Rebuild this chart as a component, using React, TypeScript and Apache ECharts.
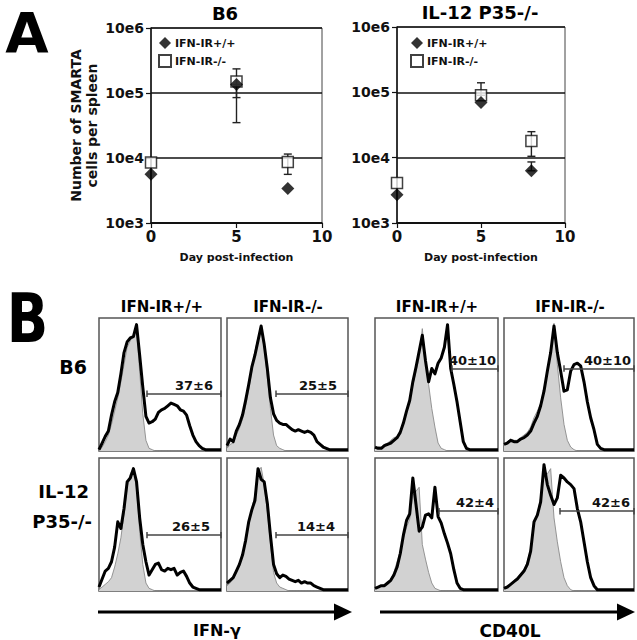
import React, { useEffect, useRef } from "react";
import * as echarts from "echarts";

const FONT = "'DejaVu Sans', 'Liberation Sans', sans-serif";

// ---------- Panel A data ----------
const days = [0, 5, 8];
const seriesNames = ["IFN-IR+/+", "IFN-IR-/-"];
const plotTitles = ["B6", "IL-12 P35-/-"];
const yAxisTitle = "Number of SMARTA\ncells per spleen";
const xAxisTitle = "Day post-infection";
const b6WT = [5600, 135000, 3400];
const b6KO = [8500, 150000, 8700];
const b6Err = [
  [5, 35000, 135000],
  [5, 85000, 235000],
  [8, 5600, 11500],
];
const il12WT = [2700, 70000, 6300];
const il12KO = [4100, 90000, 18000];
const il12Err = [
  [5, 90000, 140000],
  [8, 10500, 25000],
  [8, 6300, 8600],
];

// ---------- Panel B data (histograms, 40 bins, % of max) ----------
const colHeaders = ["IFN-IR+/+", "IFN-IR-/-", "IFN-IR+/+", "IFN-IR-/-"];
const markerNames = ["IFN-γ", "CD40L"];

const h1Black = [1, 6, 11, 15, 27, 37, 44, 58, 74, 82, 85, 86, 95, 72, 48, 26, 21, 22, 24, 29, 31, 32, 34, 36, 35, 34, 31, 30, 27, 19, 12, 7, 4, 2, 1, 1, 1, 1, 1, 1];
const h1Gray = [0, 3, 7, 12, 20, 30, 40, 52, 65, 78, 83, 86, 92, 60, 28, 8, 2, 1, 0, 0, 0, 0, 0, 0, 0, 0, 0, 0, 0, 0, 0, 0, 0, 0, 0, 0, 0, 0, 0, 0];
const h2Black = [4, 9, 7, 15, 20, 27, 38, 50, 63, 72, 83, 94, 80, 62, 40, 28, 23, 21, 20, 20, 18, 16, 15, 16, 15, 14, 15, 14, 12, 7, 5, 3, 2, 1, 1, 1, 1, 1, 1, 1];
const h2Gray = [2, 5, 6, 12, 17, 24, 34, 46, 60, 75, 85, 92, 78, 55, 32, 12, 4, 2, 1, 0, 0, 0, 0, 0, 0, 0, 0, 0, 0, 0, 0, 0, 0, 0, 0, 0, 0, 0, 0, 0];
const h3Black = [3, 2, 2, 4, 5, 6, 8, 10, 14, 21, 30, 38, 52, 63, 75, 87, 68, 52, 62, 58, 66, 70, 78, 95, 62, 50, 37, 22, 7, 2, 1, 1, 1, 1, 1, 1, 1, 1, 1, 1];
const h3Gray = [2, 3, 3, 5, 6, 8, 10, 11, 15, 22, 30, 38, 50, 60, 70, 92, 68, 50, 32, 18, 6, 2, 1, 0, 0, 0, 0, 0, 0, 0, 0, 0, 0, 0, 0, 0, 0, 0, 0, 0];
const h4Black = [5, 6, 8, 7, 7, 9, 10, 12, 15, 21, 26, 34, 45, 60, 74, 94, 74, 60, 45, 46, 60, 65, 66, 64, 52, 37, 25, 16, 5, 2, 1, 1, 1, 1, 1, 1, 1, 1, 1, 1];
const h4Gray = [5, 7, 9, 8, 8, 10, 12, 14, 18, 25, 30, 36, 47, 60, 73, 96, 65, 40, 20, 8, 3, 1, 0, 0, 0, 0, 0, 0, 0, 0, 0, 0, 0, 0, 0, 0, 0, 0, 0, 0];
const h5Black = [3, 9, 15, 17, 22, 33, 52, 47, 62, 82, 85, 92, 82, 55, 35, 22, 12, 16, 20, 21, 16, 15, 17, 16, 17, 12, 14, 15, 11, 6, 3, 2, 1, 1, 1, 1, 1, 1, 1, 1];
const h5Gray = [1, 3, 5, 7, 10, 18, 28, 40, 58, 78, 88, 92, 78, 45, 20, 6, 2, 1, 0, 0, 0, 0, 0, 0, 0, 0, 0, 0, 0, 0, 0, 0, 0, 0, 0, 0, 0, 0, 0, 0];
const h6Black = [6, 8, 10, 15, 20, 27, 38, 52, 61, 68, 92, 84, 82, 66, 42, 20, 13, 10, 12, 11, 9, 8, 7, 8, 6, 7, 6, 6, 4, 3, 2, 1, 1, 1, 1, 1, 1, 1, 1, 1];
const h6Gray = [4, 6, 9, 14, 19, 26, 36, 50, 62, 72, 90, 93, 80, 60, 36, 14, 6, 3, 2, 1, 0, 0, 0, 0, 0, 0, 0, 0, 0, 0, 0, 0, 0, 0, 0, 0, 0, 0, 0, 0];
const h7Black = [2, 3, 4, 4, 6, 8, 12, 18, 28, 42, 53, 58, 85, 65, 45, 48, 57, 58, 55, 78, 56, 51, 43, 36, 28, 16, 6, 2, 1, 1, 1, 1, 1, 1, 1, 1, 1, 1, 1, 1];
const h7Gray = [2, 3, 4, 5, 6, 9, 14, 22, 30, 40, 48, 54, 72, 75, 78, 35, 24, 14, 6, 2, 1, 0, 0, 0, 0, 0, 0, 0, 0, 0, 0, 0, 0, 0, 0, 0, 0, 0, 0, 0];
const h8Black = [2, 3, 5, 7, 9, 12, 15, 20, 30, 52, 57, 67, 95, 80, 72, 65, 70, 87, 85, 82, 80, 77, 62, 52, 37, 22, 10, 4, 1, 1, 1, 1, 1, 1, 1, 1, 1, 1, 1, 1];
const h8Gray = [2, 3, 5, 8, 10, 13, 16, 22, 32, 50, 58, 70, 90, 88, 92, 55, 37, 22, 10, 4, 1, 0, 0, 0, 0, 0, 0, 0, 0, 0, 0, 0, 0, 0, 0, 0, 0, 0, 0, 0];

const blackHists = [h1Black, h2Black, h3Black, h4Black, h5Black, h6Black, h7Black, h8Black];
const grayHists = [h1Gray, h2Gray, h3Gray, h4Gray, h5Gray, h6Gray, h7Gray, h8Gray];
const gateStarts = [15.3, 15.8, 24.4, 18, 15.3, 15.8, 20.3, 16.7];
const gateLevels = [43, 43, 62, 62, 42, 42, 60, 60];
const gateLabels = ["37±6", "25±5", "40±10", "40±10", "26±5", "14±4", "42±4", "42±6"];

export default function App() {
  const ref = useRef<HTMLDivElement>(null);

  useEffect(() => {
    if (!ref.current) return;
    const chart = echarts.init(ref.current, undefined, { renderer: "svg" });

    const grids: any[] = [];
    const xAxes: any[] = [];
    const yAxes: any[] = [];
    const series: any[] = [];
    const legends: any[] = [];

    const bold = (size: number) => ({ fontFamily: FONT, fontWeight: "bold", fontSize: size, color: "#111" });

    // ----- Panel A -----
    const topGrids = [
      { left: 151, top: 28, width: 171, height: 195 },
      { left: 397, top: 27, width: 168, height: 196 },
    ];
    const wtData = [b6WT, il12WT];
    const koData = [b6KO, il12KO];
    const errData = [b6Err, il12Err];
    const legendLefts = [158, 410];

    topGrids.forEach((g, k) => {
      grids.push({ ...g, show: true, borderColor: "#444", borderWidth: 1, backgroundColor: "transparent" });
      xAxes.push({
        gridIndex: k,
        type: "value",
        min: 0,
        max: 10,
        interval: 5,
        axisLine: { show: true, onZero: false, lineStyle: { color: "#111", width: 1.5 } },
        axisTick: { show: true, length: 5, lineStyle: { color: "#111", width: 1.2 } },
        axisLabel: { ...bold(15), margin: 6 },
        splitLine: { show: false },
        name: xAxisTitle,
        nameLocation: "middle",
        nameGap: 29,
        nameTextStyle: bold(11),
      });
      yAxes.push({
        gridIndex: k,
        type: "log",
        logBase: 10,
        min: 1000,
        max: 1000000,
        axisLine: { show: true, lineStyle: { color: "#111", width: 1.5 } },
        axisTick: { show: true, length: 5, lineStyle: { color: "#111", width: 1.2 } },
        axisLabel: {
          ...bold(14),
          margin: 7,
          formatter: (v: number) => "10e" + Math.round(Math.log10(v)),
        },
        splitLine: { show: true, lineStyle: { color: "#111", width: 1.5 } },
        name: k === 0 ? yAxisTitle : "",
        nameLocation: "middle",
        nameGap: 51,
        nameTextStyle: { ...bold(14), lineHeight: 16 },
      });
      series.push({
        type: "custom",
        name: "err" + k,
        xAxisIndex: k,
        yAxisIndex: k,
        z: 2,
        data: errData[k],
        encode: { x: 0, y: [1, 2] },
        renderItem: (params: any, api: any) => {
          const x = api.value(0);
          const p1 = api.coord([x, api.value(1)]);
          const p2 = api.coord([x, api.value(2)]);
          const w = 4;
          const st = { stroke: "#222", lineWidth: 1.4 };
          return {
            type: "group",
            children: [
              { type: "line", shape: { x1: p1[0], y1: p1[1], x2: p2[0], y2: p2[1] }, style: st },
              { type: "line", shape: { x1: p1[0] - w, y1: p1[1], x2: p1[0] + w, y2: p1[1] }, style: st },
              { type: "line", shape: { x1: p2[0] - w, y1: p2[1], x2: p2[0] + w, y2: p2[1] }, style: st },
            ],
          };
        },
      });
      series.push({
        type: "scatter",
        name: seriesNames[1],
        xAxisIndex: k,
        yAxisIndex: k,
        z: 3,
        symbol: "rect",
        symbolSize: 11,
        itemStyle: { color: "#fff", borderColor: "#111", borderWidth: 1.5 },
        data: days.map((d, i) => [d, koData[k][i]]),
      });
      series.push({
        type: "scatter",
        name: seriesNames[0],
        xAxisIndex: k,
        yAxisIndex: k,
        z: 4,
        symbol: "diamond",
        symbolSize: 13,
        itemStyle: { color: "#000" },
        data: days.map((d, i) => [d, wtData[k][i]]),
      });
      legends.push({
        data: seriesNames,
        left: legendLefts[k],
        top: 37,
        orient: "vertical",
        itemWidth: 12,
        itemHeight: 12,
        itemGap: 5,
        padding: 0,
        selectedMode: false,
        textStyle: { ...bold(11), padding: [0, 0, 0, -1] },
      });
    });

    // ----- Panel B -----
    const cols = [
      [99, 122],
      [227, 121],
      [375, 123],
      [504, 130],
    ];
    const rows = [
      [318, 133],
      [458, 133],
    ];
    const labelDx = [8, 11, 2, 3, 11, 13, 4, 4];
    const tickH = 2.4;

    blackHists.forEach((blk, p) => {
      const r = Math.floor(p / 4);
      const c = p % 4;
      const gi = 2 + p;
      grids.push({
        left: cols[c][0],
        width: cols[c][1],
        top: rows[r][0],
        height: rows[r][1],
        show: true,
        borderColor: "#555",
        borderWidth: 1.5,
        backgroundColor: "transparent",
      });
      xAxes.push({ gridIndex: gi, type: "value", min: 0, max: 39, show: false });
      yAxes.push({ gridIndex: gi, type: "value", min: 0, max: 100, show: false });
      series.push({
        type: "line",
        xAxisIndex: gi,
        yAxisIndex: gi,
        z: 2,
        symbol: "none",
        lineStyle: { color: "#8a8a8a", width: 0.9 },
        areaStyle: { color: "#d2d2d2", opacity: 1 },
        data: grayHists[p].map((v, i) => [i, v]),
      });
      const s = gateStarts[p];
      const lv = gateLevels[p];
      series.push({
        type: "line",
        xAxisIndex: gi,
        yAxisIndex: gi,
        z: 3,
        symbol: "none",
        lineStyle: { color: "#000", width: 3, join: "round" },
        data: blk.map((v, i) => [i, v]),
        markLine: {
          silent: true,
          symbol: "none",
          lineStyle: { color: "#444", width: 1.5, type: "solid" },
          label: { show: false },
          data: [
            [
              {
                coord: [s, lv],
                label: {
                  show: true,
                  position: "insideEndTop",
                  formatter: gateLabels[p],
                  ...bold(13),
                  distance: [labelDx[p], 2],
                },
              },
              { coord: [39, lv] },
            ],
            [{ coord: [s, lv - tickH] }, { coord: [s, lv + tickH] }],
            [{ coord: [39, lv - tickH] }, { coord: [39, lv + tickH] }],
          ],
        },
      });
    });

    const txt = (
      text: string,
      x: number,
      y: number,
      size: number,
      scaleX = 1,
      align = "center",
      valign = "middle"
    ) => ({
      type: "text",
      x,
      y,
      scaleX,
      style: {
        text,
        font: `bold ${size}px ${FONT}`,
        fill: "#000",
        textAlign: align,
        textVerticalAlign: valign,
        align,
        verticalAlign: valign,
      },
    });

    const graphics: any[] = [
      txt("A", 27, 4, 56, 1, "center", "top"),
      txt("B", 27.5, 319, 68, 0.8),
      txt(plotTitles[0], 225, 13, 18),
      txt(plotTitles[1], 480, 12, 18),
      txt(colHeaders[0], 162, 307, 15),
      txt(colHeaders[1], 288, 307, 15),
      txt(colHeaders[2], 437, 307, 15),
      txt(colHeaders[3], 570, 307, 15),
      txt("B6", 73, 367, 19),
      txt("IL-12", 89, 491, 18, 1, "right"),
      txt("P35-/-", 92, 521, 18, 1, "right"),
      txt(markerNames[0], 217, 630, 16),
      txt(markerNames[1], 510, 631, 17),
      { type: "line", shape: { x1: 98, y1: 612, x2: 336, y2: 612 }, style: { stroke: "#000", lineWidth: 3 } },
      { type: "polygon", shape: { points: [[334, 603.5], [352, 612], [334, 620.5]] }, style: { fill: "#000" } },
      { type: "line", shape: { x1: 380, y1: 612, x2: 619, y2: 612 }, style: { stroke: "#000", lineWidth: 3 } },
      { type: "polygon", shape: { points: [[617, 603.5], [635, 612], [617, 620.5]] }, style: { fill: "#000" } },
    ];

    chart.setOption({
      animation: false,
      backgroundColor: "#fff",
      grid: grids,
      xAxis: xAxes,
      yAxis: yAxes,
      legend: legends,
      series,
      graphic: graphics,
    });

    return () => chart.dispose();
  }, []);

  return (
    <div
      ref={ref}
      style={{ position: "fixed", left: 0, top: 0, width: 637, height: 640, background: "#fff" }}
    />
  );
}
